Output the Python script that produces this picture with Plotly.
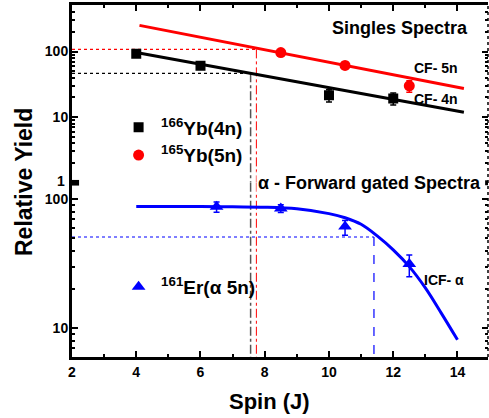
import plotly.graph_objects as go

# ---------------- data ----------------
# Singles spectra (top panel)
spin_4n = [4, 6, 10, 12]
yield_4n = [93, 61, 21.6, 19.3]
err_4n = [0, 0, 4.5, 4.0]

spin_5n = [8.5, 10.5, 12.5]
yield_5n = [96.5, 61.5, 30]
err_5n = [0, 0, 6]

fit_4n_spin = [4, 14.2]
fit_4n_yield = [97, 11.9]
fit_5n_spin = [4.1, 14.2]
fit_5n_yield = [251, 27.4]

# alpha-forward gated spectra (bottom panel)
spin_a5n = [6.5, 8.5, 10.5, 12.5]
yield_a5n = [87.5, 85, 61.5, 31.5]
err_a5n_plus = [8, 6, 7, 5.5]
err_a5n_minus = [8, 6, 9, 6.5]

fit_icf_spin = [4, 5, 6, 7, 8, 9, 10, 10.5, 11, 11.5, 12, 12.5, 13, 13.5, 14]
fit_icf_yield = [88, 88, 88, 87.5, 87, 84.5, 77.5, 72, 64, 52, 40.5, 30, 20.5, 13, 8.1]

# half-yield markers
half_4n = dict(spin=7.56, yld=46.6)
half_5n = dict(spin=7.74, yld=108)
half_icf = dict(spin=11.4, yld=51)

x_range = [2, 14.95]
x_ticks = [2, 4, 6, 8, 10, 12, 14]
top_ticks = [10, 100]
top_break_label = "1"
bot_ticks = [10, 100]
top_range_log = [0, 2.71]
bot_range_log = [0.775, 2.129]
bot_min, bot_max = 10 ** bot_range_log[0], 10 ** bot_range_log[1]
top_min = 10 ** top_range_log[0]

FONT = "Liberation Sans, Arial, sans-serif"
BLACK, RED, BLUE = "#000000", "#ff0000", "#0000ff"

fig = go.Figure()

# ---- reference (half-yield) lines ----
def add_line(xs, ys, color, dash, width, axis):
    fig.add_trace(go.Scatter(x=xs, y=ys, mode="lines", showlegend=False,
                             line=dict(color=color, dash=dash, width=width),
                             xaxis=axis[0], yaxis=axis[1], hoverinfo="skip"))

top = ("x2", "y2")
bot = ("x", "y")
add_line([x_range[0], half_4n["spin"]], [half_4n["yld"]] * 2, BLACK, "dot", 1.2, top)
add_line([x_range[0], half_5n["spin"]], [half_5n["yld"]] * 2, RED, "dot", 1.2, top)
add_line([half_4n["spin"]] * 2, [half_4n["yld"], top_min], "#555555", "dashdot", 1.5, top)
add_line([half_5n["spin"]] * 2, [half_5n["yld"], top_min], RED, "dashdot", 1.0, top)
add_line([half_4n["spin"]] * 2, [bot_max, bot_min], "#555555", "dashdot", 1.5, bot)
add_line([half_5n["spin"]] * 2, [bot_max, bot_min], RED, "dashdot", 1.0, bot)
add_line([x_range[0], half_icf["spin"]], [half_icf["yld"]] * 2, BLUE, "dot", 1.2, bot)
add_line([half_icf["spin"]] * 2, [half_icf["yld"], bot_min], BLUE, "dash", 1.2, bot)

# ---- fit lines ----
fig.add_trace(go.Scatter(x=fit_5n_spin, y=fit_5n_yield, mode="lines", showlegend=False,
                         line=dict(color=RED, width=3), xaxis="x2", yaxis="y2"))
fig.add_trace(go.Scatter(x=fit_4n_spin, y=fit_4n_yield, mode="lines", showlegend=False,
                         line=dict(color=BLACK, width=3), xaxis="x2", yaxis="y2"))
fig.add_trace(go.Scatter(x=fit_icf_spin, y=fit_icf_yield, mode="lines", showlegend=False,
                         line=dict(color=BLUE, width=3, shape="spline", smoothing=1.0),
                         xaxis="x", yaxis="y"))

# ---- data points ----
fig.add_trace(go.Scatter(x=spin_4n, y=yield_4n, mode="markers", name="<sup>166</sup>Yb(4n)",
                         marker=dict(symbol="square", size=10, color=BLACK),
                         error_y=dict(type="data", array=err_4n, color=BLACK, thickness=1.5, width=3),
                         xaxis="x2", yaxis="y2", legend="legend"))
fig.add_trace(go.Scatter(x=spin_5n, y=yield_5n, mode="markers", name="<sup>165</sup>Yb(5n)",
                         marker=dict(symbol="circle", size=11, color=RED),
                         error_y=dict(type="data", array=err_5n, color=RED, thickness=1.5, width=3),
                         xaxis="x2", yaxis="y2", legend="legend"))
fig.add_trace(go.Scatter(x=spin_a5n, y=yield_a5n, mode="markers", name="<sup>161</sup>Er(\u03b1 5n)",
                         marker=dict(symbol="triangle-up", size=12, color=BLUE),
                         error_y=dict(type="data", array=err_a5n_plus, arrayminus=err_a5n_minus,
                                      color=BLUE, thickness=1.5, width=3),
                         xaxis="x", yaxis="y", legend="legend2"))

# ---- axes ----
tickfont = dict(family=FONT, size=14, color=BLACK, weight="bold")
Y_SPLIT = 0.495

common_y = dict(type="log", showline=True, linewidth=3, linecolor=BLACK, ticks="inside",
                ticklen=6, tickwidth=2, tickcolor=BLACK, tickfont=tickfont, showgrid=False,
                zeroline=False, automargin=False, ticklabelstandoff=-2,
                minor=dict(ticks="inside", ticklen=3, tickwidth=1.5,
                           tickcolor=BLACK, dtick="D1", showgrid=False))
common_x = dict(range=x_range, showline=True, linewidth=3, linecolor=BLACK, ticks="inside",
                ticklen=6, tickwidth=2, tickcolor=BLACK, showgrid=False, zeroline=False,
                tickvals=x_ticks, automargin=False,
                minor=dict(ticks="inside", ticklen=3, tickwidth=1.5,
                           tickcolor=BLACK, dtick=1, showgrid=False))
right_y = dict(type="log", side="right", showline=False, ticks="inside", ticklen=6,
               tickwidth=2, tickcolor=BLACK, showticklabels=False, showgrid=False,
               zeroline=False, automargin=False,
               minor=dict(ticks="inside", ticklen=3, tickwidth=1.5, tickcolor=BLACK, dtick="D1"))

fig.update_layout(
    width=489, height=418,
    margin=dict(l=72, r=1, t=5, b=61, autoexpand=False),
    paper_bgcolor="white", plot_bgcolor="white",
    xaxis=dict(**common_x, anchor="y", tickfont=tickfont),
    xaxis2=dict(**common_x, anchor="y2", side="top", matches="x", showticklabels=False),
    yaxis=dict(**common_y, domain=[0, Y_SPLIT], range=bot_range_log, tickvals=bot_ticks,
               ticktext=[str(v) for v in bot_ticks], anchor="x"),
    yaxis2=dict(**common_y, domain=[Y_SPLIT, 1], range=top_range_log, tickvals=top_ticks,
                ticktext=[str(v) for v in top_ticks], anchor="x2"),
    yaxis3=dict(**right_y, overlaying="y", anchor="x", range=bot_range_log, tickvals=bot_ticks),
    yaxis4=dict(**right_y, overlaying="y2", anchor="x2", range=top_range_log, tickvals=top_ticks),
    legend=dict(x=0.106, y=0.706, xanchor="left", yanchor="top", bgcolor="rgba(0,0,0,0)",
                font=dict(family=FONT, size=19, color=BLACK, weight="bold"),
                tracegroupgap=0, itemwidth=35),
    legend2=dict(x=0.106, y=0.253, xanchor="left", yanchor="top", bgcolor="rgba(0,0,0,0)",
                 font=dict(family=FONT, size=19, color=BLACK, weight="bold"), itemwidth=35),
    showlegend=True,
)

# dummy traces so the right-hand tick axes are drawn
fig.add_trace(go.Scatter(x=[None], y=[None], xaxis="x", yaxis="y3", showlegend=False))
fig.add_trace(go.Scatter(x=[None], y=[None], xaxis="x2", yaxis="y4", showlegend=False))

# dotted right border and axis-break marks
fig.add_shape(type="line", xref="paper", yref="paper", x0=1, x1=1, y0=0, y1=1,
              line=dict(color=BLACK, width=1.5, dash="dot"))
fig.add_shape(type="rect", xref="x", yref="paper", x0=1.84, x1=2.22,
              y0=Y_SPLIT - 0.008, y1=Y_SPLIT + 0.008, fillcolor=BLACK, line=dict(width=0))
fig.add_shape(type="rect", xref="x", yref="paper", x0=14.86, x1=14.97,
              y0=Y_SPLIT - 0.007, y1=Y_SPLIT + 0.007, fillcolor=BLACK, line=dict(width=0))

# ---- text ----
def note(text, x, y, size, xanchor="center", **kw):
    fig.add_annotation(text=text, x=x, y=y, xref="paper", yref="paper", showarrow=False,
                       xanchor=xanchor, yanchor="middle",
                       font=dict(family=FONT, size=size, color=BLACK, weight="bold"), **kw)

PW, PH = 416.0, 352.0  # plot area in px
def px(xp): return (xp - 72) / PW
def py(yp): return (357 - yp) / PH

note(top_break_label, px(67), py(181), 14, xanchor="right")
note("Singles Spectra", px(400), py(28), 18)
note("CF- 5n", px(436), py(68), 14)
note("CF- 4n", px(436), py(99), 14)
note("\u03b1 - Forward gated Spectra", px(369), py(183), 18, bgcolor="white")
note("ICF- \u03b1", px(444), py(280), 14)
note("Relative Yield", px(24), py(182), 23, textangle=-90)
note("Spin (J)", px(269), py(401), 22)

fig.write_html("out.html", config={"displayModeBar": False},
               post_script="document.body.style.margin='0';document.body.style.overflow='hidden';")
